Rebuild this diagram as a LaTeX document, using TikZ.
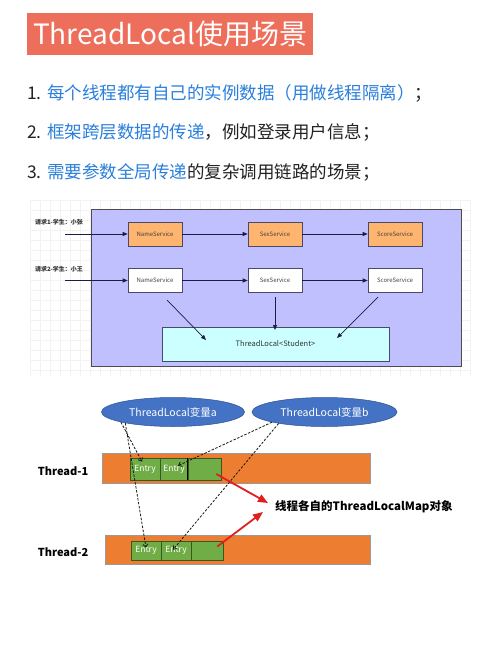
\documentclass[tikz,border=0pt]{standalone}
\usepackage{fontspec}
\setmainfont{Noto Sans CJK SC}
\usetikzlibrary{arrows.meta,shapes.geometric,calc}
\definecolor{titlered}{HTML}{EE6E5C}
\definecolor{hlblue}{HTML}{2A7FDB}
\definecolor{txtblack}{HTML}{222222}
\definecolor{lav}{HTML}{C0C0FF}
\definecolor{svcorange}{HTML}{FFB570}
\definecolor{tlcyan}{HTML}{CCFFFF}
\definecolor{navy}{HTML}{1C1C44}
\definecolor{elblue}{HTML}{4472C4}
\definecolor{elborder}{HTML}{2F528F}
\definecolor{barorange}{HTML}{ED7D31}
\definecolor{entgreen}{HTML}{70AD47}
\definecolor{entborder}{HTML}{385723}
\definecolor{arrred}{HTML}{E0201F}
\tikzset{
  svc/.style={draw=navy!80, line width=0.6, minimum width=54, minimum height=24, inner sep=0, font=\fontsize{6}{6}\selectfont, text=black!75},
  req/.style={font=\fontsize{6}{6}\selectfont\bfseries, text=black!80, inner sep=0},
  flow/.style={draw=navy, line width=0.7, -{Triangle[length=5,width=4]}},
  tlvar/.style={ellipse, fill=elblue, draw=elborder, line width=0.5, inner sep=0, text=white, font=\fontsize{10.5}{10.5}\selectfont},
  bar/.style={fill=barorange, draw=gray!80, line width=0.5, inner sep=0},
  entry/.style={fill=entgreen, draw=entborder, line width=0.6, inner sep=0, text=white, font=\fontsize{8.5}{8.5}\selectfont},
  ref/.style={draw=black!90, line width=0.8, dash pattern=on 2.5pt off 1.5pt, -{Straight Barb[length=3,width=5]}},
  redarr/.style={draw=arrred, line width=1.8, -{Triangle[length=10,width=8]}},
  thlabel/.style={font=\fontsize{11}{11}\selectfont\bfseries, text=black, inner sep=0}
}
\begin{document}
\begin{tikzpicture}[x=1pt,y=-1pt]
\useasboundingbox (0,0) rectangle (500,653);
\fill[white] (0,0) rectangle (500,653);

% title
\node[fill=titlered, minimum width=286, minimum height=42, anchor=north west, inner sep=0, text=white, font=\fontsize{28}{28}\selectfont] (title) at (27,13) {ThreadLocal使用场景};

% list
\node[anchor=west, inner sep=0, text=txtblack, font=\fontsize{17.5}{20}\selectfont] (l1) at (27,93) {1. \textcolor{hlblue}{每个线程都有自己的实例数据（用做线程隔离）}；};
\node[anchor=west, inner sep=0, text=txtblack, font=\fontsize{17.5}{20}\selectfont] (l2) at (27,132) {2. \textcolor{hlblue}{框架跨层数据的传递}，例如登录用户信息；};
\node[anchor=west, inner sep=0, text=txtblack, font=\fontsize{17.5}{20}\selectfont] (l3) at (27,172) {3. \textcolor{hlblue}{需要参数全局传递}的复杂调用链路的场景；};

% diagram 1 grid
\foreach \gx in {30,40,...,470} \draw[gray!10, line width=0.3] (\gx,200) -- (\gx,376);
\foreach \gy in {200,210,...,370} \draw[gray!10, line width=0.3] (30,\gy) -- (470,\gy);

\node[fill=lav, draw=black!70, line width=0.6, minimum width=370, minimum height=157, inner sep=0] (frame) at (276,287.5) {};

\node[svc, fill=svcorange] (n1) at (155,234) {NameService};
\node[svc, fill=svcorange] (s1) at (275,234) {SexService};
\node[svc, fill=svcorange] (c1) at (395,234) {ScoreService};
\node[svc, fill=white] (n2) at (155,280.5) {NameService};
\node[svc, fill=white] (s2) at (275,280.5) {SexService};
\node[svc, fill=white] (c2) at (395,280.5) {ScoreService};
\node[draw=navy!80, line width=0.6, fill=tlcyan, minimum width=227, minimum height=34, inner sep=0, font=\fontsize{7.5}{7.5}\selectfont, text=black!80] (tl) at (275.5,344) {ThreadLocal<Student>};

\node[req] (r1) at (59,222) {请求1-学生：小张};
\node[req] (r2) at (59,269) {请求2-学生：小王};
\coordinate (r1s) at (65,234);
\coordinate (r2s) at (65,280.5);
\draw[flow] (r1s) -- (n1.west);
\draw[flow] (r2s) -- (n2.west);
\draw[flow] (n1) -- (s1);
\draw[flow] (s1) -- (c1);
\draw[flow] (n2) -- (s2);
\draw[flow] (s2) -- (c2);
\coordinate (a1s) at (167,300);
\coordinate (a1e) at (206,340);
\coordinate (a2s) at (275,297);
\coordinate (a2e) at (275,330);
\coordinate (a3s) at (378,297);
\coordinate (a3e) at (337,338);
\draw[flow] (a1s) -- (a1e);
\draw[flow] (a2s) -- (a2e);
\draw[flow] (a3s) -- (a3e);

% diagram 2
\node[tlvar, minimum width=143, minimum height=29] (ela) at (173,412) {ThreadLocal变量a};
\node[tlvar, minimum width=145, minimum height=29] (elb) at (324.5,412) {ThreadLocal变量b};

\node[bar, minimum width=268, minimum height=30] (t1) at (236,468) {};
\node[bar, minimum width=265, minimum height=29] (t2) at (237.5,549.5) {};

\node[entry, minimum width=30, minimum height=22] (e11) at (145,469) {Entry};
\node[entry, minimum width=28, minimum height=22] (e12) at (174,469) {Entry};
\node[entry, minimum width=33, minimum height=22] (e13) at (204.5,469) {};
\draw[black, line width=1] (e13.north west) -- (e13.south west);
\node[entry, minimum width=30, minimum height=19] (e21) at (146,550.5) {Entry};
\node[entry, minimum width=30, minimum height=19] (e22) at (176,550.5) {Entry};
\node[entry, minimum width=32, minimum height=19] (e23) at (207,550.5) {};

\node[thlabel] (th1) at (63,471) {Thread-1};
\node[thlabel] (th2) at (63,552) {Thread-2};

\draw[ref] (ela.191) -- ([shift={(-3,4)}]e11.north);
\draw[ref] (ela.193) -- ([shift={(0,7)}]e21.north);
\draw[ref] (elb.191) -- ([shift={(4,8)}]e12.north);
\draw[ref] (elb.194) -- ([shift={(-3,9)}]e22.north);

\node[anchor=west, inner sep=0, font=\fontsize{11.5}{11.5}\selectfont\bfseries, text=black] (map) at (275,507) {线程各自的ThreadLocalMap对象};
\draw[redarr] ($(e13.east)+(-5,5)$) -- ($(map.west)+(-7,-4)$);
\draw[redarr] ($(e23.east)+(-6,-4)$) -- ($(map.west)+(-12,5)$);
\end{tikzpicture}
\end{document}
